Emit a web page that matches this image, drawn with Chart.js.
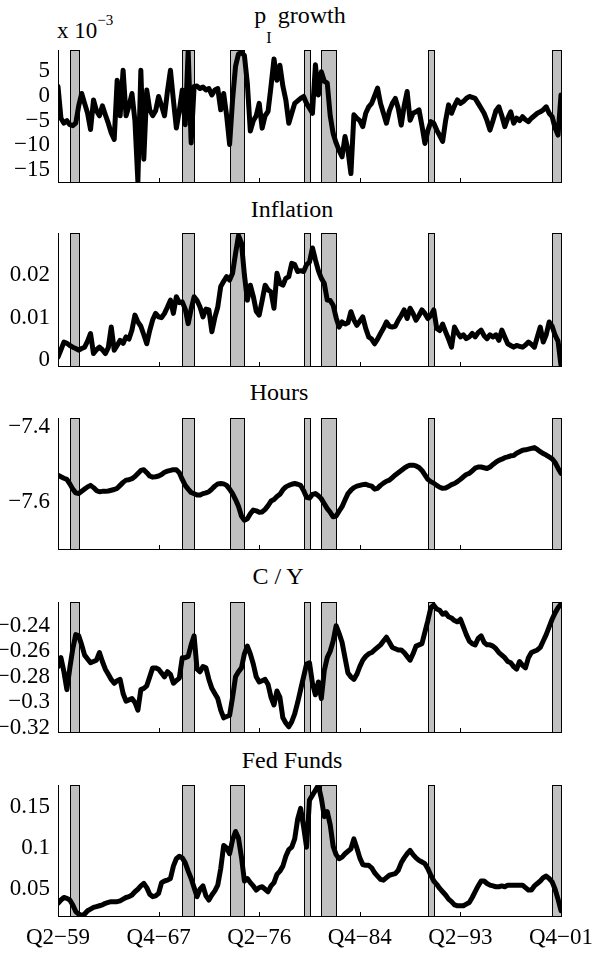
<!DOCTYPE html>
<html>
<head>
<meta charset="utf-8">
<script src="https://cdn.jsdelivr.net/npm/chart.js@4.4.1/dist/chart.umd.min.js"></script>
<style>
html, body { margin: 0; padding: 0; background: #fff; overflow: hidden; }
body { width: 593px; height: 953px; position: relative; font-family: "Liberation Serif", "Times New Roman", serif; color: #000; }
canvas { position: absolute; left: 0; }
.title { position: absolute; font-size: 24px; line-height: 24px; white-space: nowrap; transform: translateX(-50%); }
.exp { position: absolute; left: 57px; top: 19px; font-size: 23px; line-height: 23px; white-space: nowrap; }
</style>
</head>
<body>
<div class="title" style="left:300px;top:3px">p<span style="font-size:16px;position:relative;top:20px">I</span> growth</div>
<div class="exp">x 10<span style="font-size:15px;position:relative;top:-13px">−3</span></div>
<div class="title" style="left:292px;top:197px">Inflation</div>
<div class="title" style="left:279px;top:380px">Hours</div>
<div class="title" style="left:278px;top:564px">C / Y</div>
<div class="title" style="left:292px;top:748px">Fed Funds</div>

<canvas id="c1"></canvas>
<canvas id="c2"></canvas>
<canvas id="c3"></canvas>
<canvas id="c4"></canvas>
<canvas id="c5"></canvas>

<script>
// quarters Q2-59 .. Q4-01, index 0..170
const tickPos = [0, 34, 68, 102, 136, 170];
const tickLabels = ["Q2−59", "Q4−67", "Q2−76", "Q4−84", "Q2−93", "Q4−01"];

// NBER recessions (quarter index from Q2-59)
const recStart = [4, 42, 58, 83, 89, 125, 167];
const recEnd = [7, 46, 63, 85, 94, 127, 170];

// p_I growth, in units of 10^-3
const pIGrowth = [
    1.9, -4.5, -5.5, -5.0, -5.8, -6.0, -5.5, -2.0, 0.5, -1.5,
    -3.5, -6.8, -0.8, -3.0, -4.0, -2.0, -3.8, -5.5, -7.5, -8.8,
    3.2, -4.0, 5.2, -4.0, -2.0, 0.5, -5.0, -17.3, 5.2, -12.8,
    1.2, -2.8, -4.0, -3.0, -0.1, -2.0, -4.0, 1.0, 5.2, -0.8,
    -6.5, -3.0, 1.2, -5.8, 9.2, -9.5, 1.9, 2.0, 1.5, 1.8,
    1.2, 1.5, 0.2, 1.2, 1.5, -2.8, 0.5, -4.0, -9.8, -0.8,
    6.0, 8.5, 8.8, 8.2, 2.5, -7.1, -5.0, -4.0, -1.5, -6.5,
    -4.0, -3.1, 2.0, 7.5, 3.2, 6.2, 2.0, -0.8, -5.5, -3.5,
    -1.5, -1.0, -0.5, -0.1, -1.5, -2.5, -3.5, 6.3, 0.2, 4.9,
    3.0, 2.6, -4.0, -7.6, -9.5, -11.0, -12.3, -8.2, -11.0, -15.7,
    -3.8, -4.5, -5.0, -6.2, -3.5, -2.2, -1.5, 0.0, 1.6, -1.5,
    -3.5, -5.5, -3.0, -1.5, -0.5, -2.5, -5.9, -2.0, 0.9, -4.9,
    -3.5, -3.2, -2.8, -6.0, -9.6, -7.0, -5.2, -5.5, -6.9, -8.0,
    -9.2, -5.0, -1.8, -3.5, -2.0, -0.8, -1.5, -1.1, -0.5, -0.1,
    -0.3, -0.5, -1.5, -2.5, -3.5, -5.0, -6.9, -5.0, -3.0, -2.2,
    -4.0, -6.2, -4.5, -3.2, -5.5, -4.5, -5.0, -4.2, -4.8, -5.2,
    -4.5, -4.0, -3.5, -3.2, -2.8, -2.2, -3.5, -4.2, -6.5, -7.9,
    0.2
];

const inflation = [
    0.0008, 0.0025, 0.0043, 0.0040, 0.0035, 0.0031, 0.0028, 0.0024, 0.0028, 0.0031,
    0.0045, 0.0063, 0.0016, 0.0025, 0.0031, 0.0025, 0.0016, 0.0030, 0.0078, 0.0024,
    0.0035, 0.0047, 0.0040, 0.0055, 0.0050, 0.0071, 0.0106, 0.0090, 0.0080, 0.0060,
    0.0039, 0.0070, 0.0095, 0.0110, 0.0102, 0.0100, 0.0110, 0.0125, 0.0141, 0.0110,
    0.0149, 0.0135, 0.0137, 0.0120, 0.0086, 0.0120, 0.0149, 0.0140, 0.0125, 0.0102,
    0.0120, 0.0118, 0.0067, 0.0100, 0.0125, 0.0173, 0.0185, 0.0196, 0.0188, 0.0204,
    0.0250, 0.0292, 0.0275, 0.0200, 0.0141, 0.0176, 0.0150, 0.0115, 0.0106, 0.0140,
    0.0176, 0.0165, 0.0160, 0.0122, 0.0204, 0.0180, 0.0176, 0.0192, 0.0196, 0.0227,
    0.0224, 0.0208, 0.0210, 0.0208, 0.0224, 0.0230, 0.0263, 0.0235, 0.0210, 0.0192,
    0.0180, 0.0141, 0.0140, 0.0129, 0.0100, 0.0078, 0.0090, 0.0085, 0.0088, 0.0114,
    0.0095, 0.0082, 0.0092, 0.0102, 0.0075, 0.0055, 0.0050, 0.0039, 0.0050, 0.0063,
    0.0075, 0.0090, 0.0080, 0.0078, 0.0080, 0.0094, 0.0105, 0.0118, 0.0098, 0.0122,
    0.0110, 0.0094, 0.0105, 0.0118, 0.0110, 0.0098, 0.0105, 0.0118, 0.0075, 0.0070,
    0.0085, 0.0067, 0.0050, 0.0031, 0.0078, 0.0065, 0.0055, 0.0060, 0.0051, 0.0055,
    0.0063, 0.0055, 0.0065, 0.0071, 0.0058, 0.0051, 0.0060, 0.0055, 0.0060, 0.0047,
    0.0071, 0.0055, 0.0039, 0.0035, 0.0031, 0.0035, 0.0033, 0.0031, 0.0036, 0.0043,
    0.0038, 0.0031, 0.0055, 0.0078, 0.0043, 0.0060, 0.0090, 0.0080, 0.0059, 0.0045,
    -0.0012
];

const hours = [
    -7.529, -7.533, -7.537, -7.540, -7.552, -7.566, -7.576, -7.578, -7.572, -7.566,
    -7.560, -7.556, -7.562, -7.570, -7.573, -7.572, -7.572, -7.571, -7.569, -7.567,
    -7.564, -7.556, -7.548, -7.542, -7.541, -7.538, -7.532, -7.524, -7.516, -7.514,
    -7.522, -7.531, -7.534, -7.533, -7.531, -7.527, -7.521, -7.518, -7.516, -7.514,
    -7.514, -7.522, -7.540, -7.556, -7.566, -7.575, -7.578, -7.582, -7.582, -7.578,
    -7.576, -7.573, -7.566, -7.558, -7.552, -7.551, -7.552, -7.556, -7.566, -7.578,
    -7.594, -7.612, -7.638, -7.649, -7.645, -7.632, -7.622, -7.624, -7.628, -7.627,
    -7.620, -7.610, -7.598, -7.594, -7.586, -7.580, -7.568, -7.560, -7.556, -7.553,
    -7.551, -7.553, -7.556, -7.570, -7.588, -7.590, -7.580, -7.578, -7.584, -7.592,
    -7.605, -7.618, -7.628, -7.640, -7.638, -7.625, -7.613, -7.595, -7.578, -7.569,
    -7.562, -7.558, -7.556, -7.554, -7.553, -7.556, -7.558, -7.566, -7.564, -7.556,
    -7.550, -7.545, -7.542, -7.535, -7.528, -7.522, -7.516, -7.510, -7.505, -7.502,
    -7.502, -7.504, -7.508, -7.516, -7.528, -7.540, -7.546, -7.550, -7.556, -7.561,
    -7.564, -7.563, -7.559, -7.554, -7.551, -7.546, -7.540, -7.533, -7.527, -7.524,
    -7.517, -7.510, -7.507, -7.507, -7.509, -7.511, -7.507, -7.500, -7.494, -7.489,
    -7.486, -7.482, -7.480, -7.477, -7.476, -7.470, -7.466, -7.462, -7.461, -7.459,
    -7.457, -7.455, -7.460, -7.466, -7.471, -7.475, -7.480, -7.485, -7.495, -7.510,
    -7.524
];

const consOutput = [
    -0.272, -0.265, -0.276, -0.290, -0.273, -0.258, -0.247, -0.248, -0.255, -0.263,
    -0.266, -0.269, -0.268, -0.267, -0.261, -0.268, -0.274, -0.278, -0.282, -0.285,
    -0.283, -0.282, -0.293, -0.299, -0.298, -0.297, -0.300, -0.306, -0.290, -0.289,
    -0.287, -0.280, -0.273, -0.273, -0.274, -0.277, -0.280, -0.276, -0.278, -0.285,
    -0.283, -0.281, -0.265, -0.265, -0.264, -0.255, -0.248, -0.274, -0.276, -0.272,
    -0.273, -0.282, -0.289, -0.293, -0.297, -0.306, -0.312, -0.311, -0.310, -0.296,
    -0.280, -0.276, -0.273, -0.262, -0.256, -0.262, -0.270, -0.280, -0.284, -0.283,
    -0.282, -0.286, -0.296, -0.302, -0.291, -0.296, -0.312, -0.316, -0.319, -0.315,
    -0.309, -0.300, -0.290, -0.280, -0.270, -0.269, -0.285, -0.294, -0.284, -0.297,
    -0.275, -0.265, -0.260, -0.252, -0.240, -0.246, -0.253, -0.265, -0.277, -0.280,
    -0.282, -0.278, -0.272, -0.267, -0.264, -0.262, -0.261, -0.259, -0.257, -0.255,
    -0.252, -0.249, -0.253, -0.257, -0.258, -0.259, -0.259, -0.261, -0.264, -0.267,
    -0.262, -0.256, -0.255, -0.254, -0.245, -0.236, -0.226, -0.224, -0.227, -0.228,
    -0.231, -0.230, -0.233, -0.234, -0.236, -0.237, -0.235, -0.241, -0.247, -0.252,
    -0.254, -0.255, -0.250, -0.248, -0.253, -0.255, -0.255, -0.256, -0.258, -0.261,
    -0.263, -0.265, -0.268, -0.269, -0.272, -0.274, -0.268, -0.271, -0.273, -0.265,
    -0.261, -0.260, -0.259, -0.257, -0.252, -0.247, -0.241, -0.235, -0.230, -0.226,
    -0.223
];

const fedFunds = [
    0.033, 0.037, 0.040, 0.039, 0.037, 0.031, 0.023, 0.020, 0.018, 0.020,
    0.024, 0.026, 0.028, 0.029, 0.030, 0.031, 0.033, 0.034, 0.035, 0.035,
    0.035, 0.036, 0.038, 0.040, 0.041, 0.043, 0.047, 0.050, 0.054, 0.057,
    0.052, 0.044, 0.041, 0.042, 0.045, 0.058, 0.060, 0.061, 0.063, 0.078,
    0.087, 0.090, 0.088, 0.082, 0.072, 0.063, 0.052, 0.041, 0.050, 0.054,
    0.042, 0.037, 0.043, 0.048, 0.055, 0.075, 0.103, 0.100, 0.093, 0.110,
    0.120, 0.112, 0.089, 0.060, 0.063, 0.058, 0.054, 0.049, 0.052, 0.053,
    0.050, 0.047, 0.054, 0.058, 0.068, 0.072, 0.078, 0.090, 0.098, 0.101,
    0.111, 0.135, 0.148, 0.126, 0.101, 0.158, 0.164, 0.170, 0.176, 0.160,
    0.138, 0.144, 0.128, 0.102, 0.092, 0.087, 0.089, 0.093, 0.096, 0.099,
    0.111, 0.100, 0.088, 0.080, 0.079, 0.079, 0.076, 0.070, 0.066, 0.062,
    0.061, 0.064, 0.067, 0.068, 0.069, 0.073, 0.082, 0.088, 0.093, 0.097,
    0.092, 0.088, 0.085, 0.083, 0.081, 0.075, 0.067, 0.060, 0.056, 0.051,
    0.047, 0.043, 0.038, 0.035, 0.031, 0.030, 0.030, 0.030, 0.032, 0.034,
    0.040, 0.047, 0.054, 0.060, 0.060, 0.057, 0.055, 0.054, 0.053, 0.053,
    0.054, 0.053, 0.055, 0.055, 0.055, 0.055, 0.055, 0.055, 0.052, 0.049,
    0.049, 0.054, 0.057, 0.060, 0.064, 0.066, 0.063, 0.059, 0.050, 0.038,
    0.024
];

const FONT = "'Liberation Serif', 'Times New Roman', serif";

// grey recession bands behind the line
const recessionBars = {
    id: "recessionBars",
    beforeDatasetsDraw(chart) {
        const { ctx, chartArea, scales } = chart;
        ctx.save();
        ctx.fillStyle = "#c0c0c0";
        ctx.strokeStyle = "#000";
        ctx.lineWidth = 1;
        recStart.forEach((s, k) => {
            const x0 = Math.round(scales.x.getPixelForValue(s)) + 0.5;
            const x1 = Math.round(scales.x.getPixelForValue(recEnd[k])) + 0.5;
            const y0 = Math.round(chartArea.top) + 0.5;
            const h = Math.round(chartArea.bottom) - Math.round(chartArea.top);
            ctx.fillRect(x0, y0, x1 - x0, h);
            ctx.strokeRect(x0, y0, x1 - x0, h);
        });
        ctx.restore();
    }
};

// matlab style ticks pointing into the axes
const inwardTicks = {
    id: "inwardTicks",
    afterDraw(chart) {
        const { ctx, chartArea, scales } = chart;
        ctx.save();
        ctx.strokeStyle = "#000";
        ctx.lineWidth = 1;
        tickPos.forEach(v => {
            const x = Math.round(scales.x.getPixelForValue(v)) + 0.5;
            ctx.beginPath();
            ctx.moveTo(x, chartArea.bottom);
            ctx.lineTo(x, chartArea.bottom - 4);
            ctx.stroke();
        });
        ctx.restore();
    }
};

function fmtTick(v) {
    return String(+v.toFixed(4)).replace("-", "−");
}

function makePanel(canvasId, values, top, bottom, yMin, yMax, step, showX) {
    const padTop = 20;
    const padBottom = showX ? 0 : 20;
    const xHeight = showX ? 40 : 0;
    const cv = document.getElementById(canvasId);
    cv.width = 593;
    cv.height = padTop + (bottom - top) + padBottom + xHeight;
    cv.style.top = (top - padTop) + "px";

    new Chart(cv, {
        type: "line",
        data: {
            datasets: [{
                data: values.map((v, i) => ({ x: i, y: v })),
                borderColor: "#000",
                borderWidth: 5,
                borderJoinStyle: "round",
                borderCapStyle: "round",
                pointRadius: 0,
                tension: 0,
                fill: false
            }]
        },
        options: {
            responsive: false,
            animation: false,
            events: [],
            layout: { padding: { top: padTop, bottom: padBottom, left: 0, right: 32 } },
            plugins: { legend: { display: false }, tooltip: { enabled: false } },
            scales: {
                x: {
                    type: "linear",
                    min: 0,
                    max: 170,
                    grid: { display: false, drawTicks: false },
                    border: { display: true, color: "#000", width: 1 },
                    afterBuildTicks: s => { s.ticks = tickPos.map(v => ({ value: v })); },
                    ticks: {
                        display: showX,
                        autoSkip: false,
                        maxRotation: 0,
                        padding: 8,
                        color: "#000",
                        font: { family: FONT, size: 23 },
                        callback: v => tickLabels[tickPos.indexOf(v)]
                    },
                    afterFit: s => { s.height = xHeight; s.paddingLeft = 0; s.paddingRight = 0; }
                },
                y: {
                    min: yMin,
                    max: yMax,
                    grid: { display: false, drawTicks: false },
                    border: { display: true, color: "#000", width: 1 },
                    ticks: {
                        stepSize: step,
                        includeBounds: false,
                        padding: 8,
                        color: "#000",
                        font: { family: FONT, size: 23 },
                        callback: fmtTick
                    },
                    afterFit: s => { s.width = 58; s.paddingTop = 0; s.paddingBottom = 0; }
                }
            }
        },
        plugins: [recessionBars, inwardTicks]
    });
}

makePanel("c1", pIGrowth, 50, 182, -17.4, 9.3, 5, false);
makePanel("c2", inflation, 233, 366, -0.0013, 0.0298, 0.01, false);
makePanel("c3", hours, 418, 549, -7.726, -7.376, 0.2, false);
makePanel("c4", consOutput, 602, 732, -0.3231, -0.2215, 0.02, false);
makePanel("c5", fedFunds, 785, 916, 0.0176, 0.1763, 0.05, true);
</script>
</body>
</html>
